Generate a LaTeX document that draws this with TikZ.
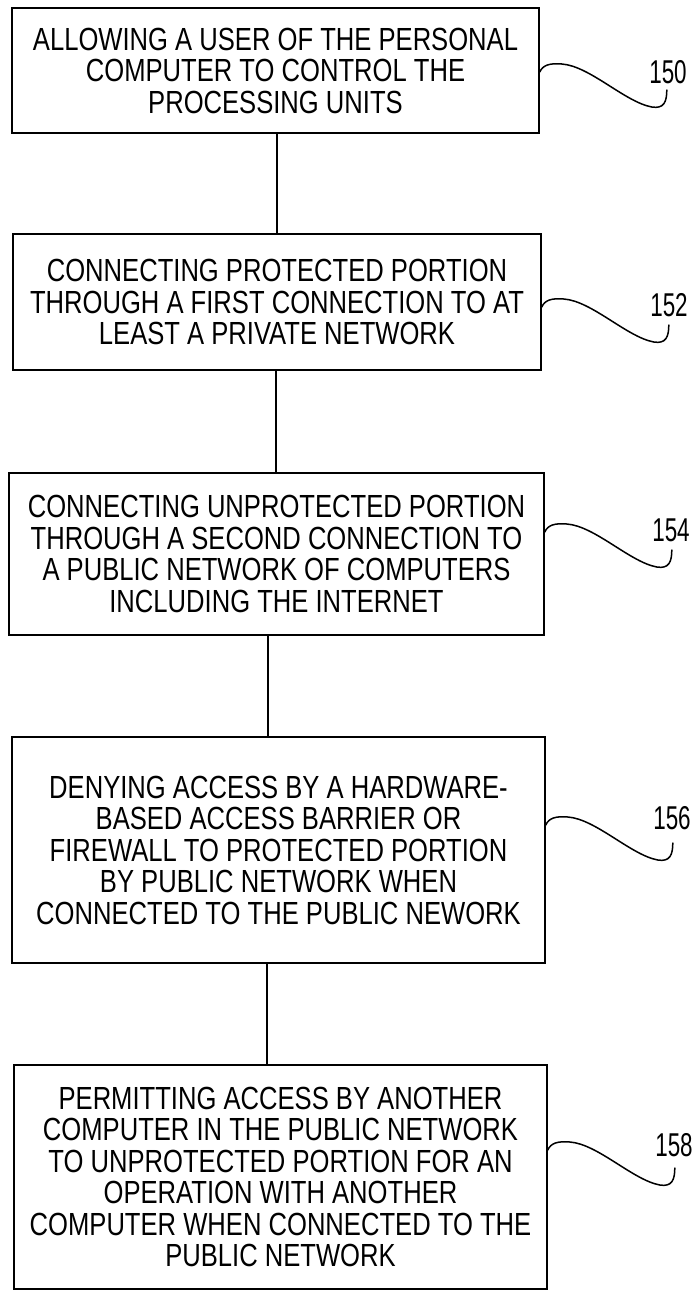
\documentclass[tikz,border=0pt]{standalone}
\usepackage{fontspec}
\setmainfont{Liberation Sans}[FakeStretch=0.80]
\newfontfamily\labelfont{Liberation Sans}[FakeStretch=0.68]
\begin{document}
\begin{tikzpicture}[x=1pt,y=-1pt,
  box/.style={draw, line width=1.6pt, align=center, inner sep=0pt,
    font=\fontsize{32}{31.5}\selectfont},
  link/.style={line width=1.2pt},
  lead/.style={line width=1.5pt, line cap=round},
  num/.style={font=\labelfont\fontsize{33}{33}\selectfont, inner sep=0pt}]
\useasboundingbox (0,0) rectangle (694,1291);

\node[box, minimum width=527pt, minimum height=125pt] (b1) at (275.5,70.5)
  {ALLOWING A USER OF THE PERSONAL\\COMPUTER TO CONTROL THE\\PROCESSING UNITS};
\node[box, minimum width=528pt, minimum height=136pt] (b2) at (277,302)
  {CONNECTING PROTECTED PORTION\\THROUGH A FIRST CONNECTION TO AT\\LEAST A PRIVATE NETWORK};
\node[box, minimum width=535pt, minimum height=162pt] (b3) at (276.5,554)
  {CONNECTING UNPROTECTED PORTION\\THROUGH A SECOND CONNECTION TO\\A PUBLIC NETWORK OF COMPUTERS\\INCLUDING THE INTERNET};
\node[box, minimum width=533pt, minimum height=226pt] (b4) at (278.5,850)
  {DENYING ACCESS BY A HARDWARE-\\BASED ACCESS BARRIER OR\\FIREWALL TO PROTECTED PORTION\\BY PUBLIC NETWORK WHEN\\CONNECTED TO THE PUBLIC NEWORK};
\node[box, minimum width=533pt, minimum height=224pt] (b5) at (280.5,1177)
  {PERMITTING ACCESS BY ANOTHER\\COMPUTER IN THE PUBLIC NETWORK\\TO UNPROTECTED PORTION FOR AN\\OPERATION WITH ANOTHER\\COMPUTER WHEN CONNECTED TO THE\\PUBLIC NETWORK};

\draw[link] (b1.south -| 277,0) -- (b2.north -| 277,0);
\draw[link] (b2.south -| 276,0) -- (b3.north -| 276,0);
\draw[link] (b3.south -| 268,0) -- (b4.north -| 268,0);
\draw[link] (b4.south -| 267,0) -- (b5.north -| 267,0);

\node[num] (n1) at (668,72) {150};
\node[num] (n2) at (669,305) {152};
\node[num] (n3) at (671,530) {154};
\node[num] (n4) at (672,818) {156};
\node[num] (n5) at (674,1145) {158};

\coordinate (s1) at (b1.east |- 0,72);
\coordinate (s2) at (b2.east |- 0,307);
\coordinate (s3) at (b3.east |- 0,532);
\coordinate (s4) at (b4.east |- 0,825);
\coordinate (s5) at (b5.east |- 0,1150);

\foreach \s in {s1,s2,s3,s4,s5}{
  \draw[lead, shift={(\s)}] (0,0) .. controls (3,-7) and (10,-9) .. (22,-8)
    .. controls (50,-6) and (85,30) .. (112,35)
    .. controls (124,37) and (127,30) .. (127,18);
}
\end{tikzpicture}
\end{document}
